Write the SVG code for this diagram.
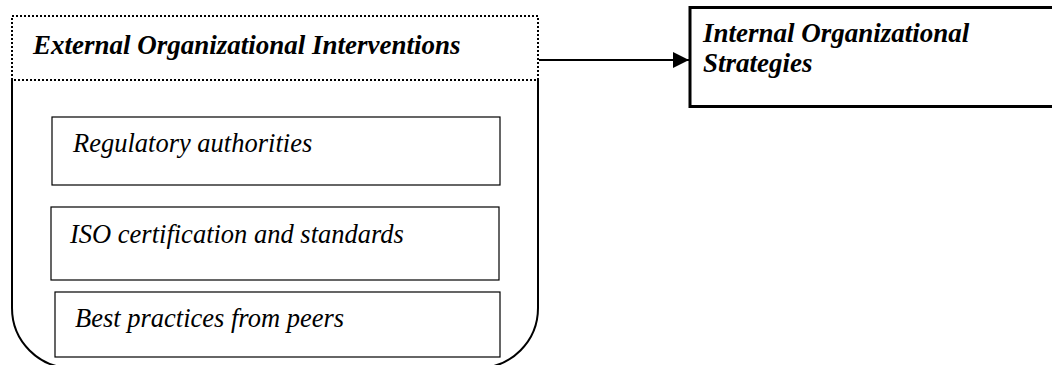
<svg xmlns="http://www.w3.org/2000/svg" width="1052" height="365" viewBox="0 0 1052 365">
  <style>
    .item { fill: #ffffff; stroke: #000000; stroke-width: 1.2; }
    .frame { fill: none; stroke: #000000; stroke-width: 2; }
    .dotted { fill: none; stroke: #000000; stroke-width: 2; stroke-dasharray: 2 2; }
    .edge { fill: none; stroke: #000000; stroke-width: 2; }
  </style>
  <defs>
    <marker id="arrowhead" viewBox="0 0 16 16" refX="16" refY="8" markerWidth="16" markerHeight="16" markerUnits="userSpaceOnUse" orient="auto">
      <path d="M0,0 L16,8 L0,16 Z" fill="#000000"/>
    </marker>
  </defs>
  <rect x="0" y="0" width="1052" height="365" fill="#ffffff"/>

  <g id="external-interventions">
    <path class="frame" d="M12,80 L12,308 A60,60 0 0 0 72,368 L478,368 A60,60 0 0 0 538,308 L538,80"/>
    <rect class="dotted" x="12" y="16" width="526" height="64"/>
  </g>
  <g id="regulatory-authorities">
    <rect class="item" x="52" y="117" width="448" height="68"/>
  </g>
  <g id="iso-certification">
    <rect class="item" x="51" y="207" width="448" height="73"/>
  </g>
  <g id="best-practices">
    <rect class="item" x="55" y="292" width="445" height="65"/>
  </g>
  <g id="internal-strategies">
    <rect x="690" y="7.5" width="380" height="99" fill="#ffffff" stroke="#000000" stroke-width="3"/>
  </g>

  <g id="connectors">
    <line class="edge" x1="539" y1="60" x2="689" y2="60" marker-end="url(#arrowhead)"/>
  </g>

  <!-- labels -->
  <g id="labels" font-family="'Liberation Serif', 'Times New Roman', Times, serif" font-style="italic">
    <text x="33" y="54" font-weight="bold" font-size="27">External Organizational Interventions</text>
    <text x="73" y="152" font-size="26.5">Regulatory authorities</text>
    <text x="70" y="243" font-size="26.5">ISO certification and standards</text>
    <text x="75" y="327" font-size="26.5">Best practices from peers</text>
    <text x="703" y="42" font-weight="bold" font-size="27">Internal Organizational</text>
    <text x="703" y="72" font-weight="bold" font-size="27">Strategies</text>
  </g>
</svg>
